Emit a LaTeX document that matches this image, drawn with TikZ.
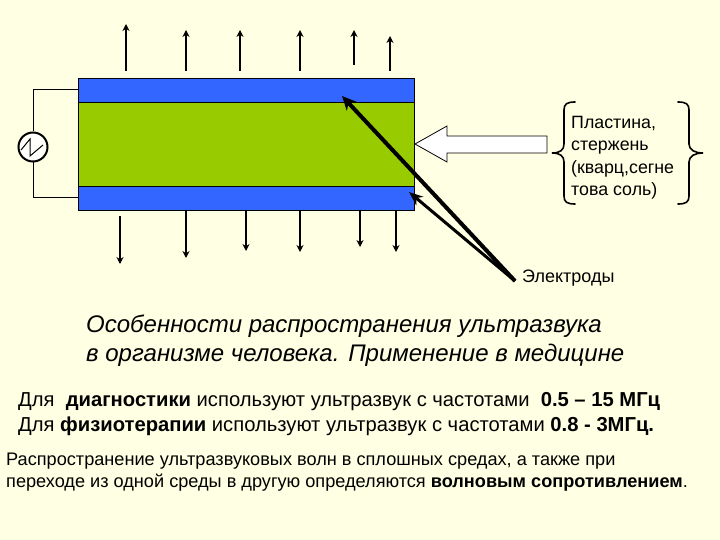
\documentclass[tikz,border=0pt]{standalone}
\usepackage{fontspec}
\setmainfont{Liberation Sans}
\usetikzlibrary{arrows.meta}
\definecolor{bgc}{HTML}{FFFFE3}
\definecolor{bluec}{HTML}{3366FF}
\definecolor{greenc}{HTML}{99CC00}
\tikzset{
 wave/.style={-{Stealth[length=7pt,width=7pt]},line width=1.5pt},
 thick arrow/.style={-{Stealth[length=14pt,width=13pt]},line width=4pt},
 mid arrow/.style={-{Stealth[length=14pt,width=11pt]},line width=3pt},
 band/.style={draw=black,line width=1pt,fill=bluec,minimum width=336pt,minimum height=24pt,inner sep=0pt,anchor=north west},
 core/.style={draw=black,line width=1pt,fill=greenc,minimum width=336pt,minimum height=84pt,inner sep=0pt,anchor=north west},
 txt/.style={anchor=west,inner sep=0pt,font=\fontsize{20.2}{24}\selectfont},
 small/.style={anchor=west,inner sep=0pt,font=\fontsize{18.15}{22}\selectfont},
 head/.style={anchor=west,inner sep=0pt,font=\fontsize{24}{28}\selectfont\itshape},
 bracket/.style={line width=1.6pt,line cap=round}
}
\begin{document}
\begin{tikzpicture}[x=1pt,y=-1pt]
\useasboundingbox (0,0) rectangle (720,540);
\fill[bgc] (0,0) rectangle (720,540);
\node[core] (core) at (78,102) {};
\node[band] (top) at (78,78) {};
\node[band] (bot) at (78,186) {};
% source
\node[circle,draw=black,fill=white!90!bgc,line width=2pt,minimum size=29pt,inner sep=0pt] (src) at (33,147) {};
\draw[line width=1pt] (src.north) |- (top.west |- 0,90);
\draw[line width=1pt] (src.south) |- (bot.west |- 0,198);
\draw[line width=1pt] (21,150) -- (30,139) -- (30,156) -- (43,145);
% up arrows
\foreach \n/\x/\b/\y in {a/126/71/24,b/186/71/30,c/240/71/30,d/300/71/30,e/354/65/30,f/390/71/36}{
 \coordinate (u\n) at (\x,\y);
 \coordinate (s\n) at (\x,\b);
 \draw[wave] (s\n) -- (u\n);
}
\foreach \n/\x/\b/\y in {a/120/216/264,b/186/210/258,c/246/210/251,d/300/210/252,e/360/210/247,f/396/210/252}{
 \coordinate (v\n) at (\x,\y);
 \coordinate (w\n) at (\x,\b);
 \draw[wave] (w\n) -- (v\n);
}
% big arrow
\draw[black,fill=white,line width=.8pt] (415,144) -- (447,126) -- (447,136) -- (547,136) -- (547,153) -- (447,153) -- (447,162) -- cycle;
% labels
\node[anchor=north west,inner sep=0pt,align=left,font=\fontsize{17.8}{22.4}\selectfont] (plate) at (571,116) {Пластина,\\стержень\\(кварц,сегне\\това соль)};
\draw[bracket] (575,102) .. controls (567,102) and (564,104) .. (564,110) -- (564,144) .. controls (564,150) and (560,153) .. (552,153) .. controls (560,153) and (564,156) .. (564,162) -- (564,196) .. controls (564,202) and (567,204) .. (575,204);
\draw[bracket] (678,102) .. controls (686,102) and (689,104) .. (689,110) -- (689,144) .. controls (689,150) and (695,153) .. (703,153) .. controls (695,153) and (689,156) .. (689,162) -- (689,196) .. controls (689,202) and (686,204) .. (678,204);
\node[anchor=west,inner sep=0pt,font=\fontsize{18}{22}\selectfont] (el) at (522,278) {Электроды};
\coordinate (o) at (515,281);
\coordinate (t1) at (342,96);
\coordinate (t2) at (409,192);
\draw[thick arrow] (o) -- (t1);
\draw[mid arrow] (o) -- (t2);
% text
\node[head] (h1) at (86,326.5) {Особенности распространения ультразвука};
\node[head] (h2) at (86,355.5) {в организме человека. Применение в медицине};
\node[txt] (l1) at (18,402) {Для \ \textbf{диагностики} используют ультразвук с частотами \ \textbf{0.5 – 15 МГц}};
\node[txt] (l2) at (18,426) {Для \textbf{физиотерапии} используют ультразвук с частотами \textbf{0.8 - 3МГц.}};
\node[small] (l3) at (6,461) {Распространение ультразвуковых волн в сплошных средах, а также при};
\node[small] (l4) at (6,483) {переходе из одной среды в другую определяются \textbf{волновым сопротивлением}.};
\end{tikzpicture}
\end{document}
